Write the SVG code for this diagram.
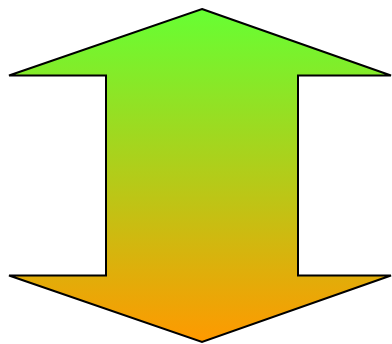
<svg xmlns="http://www.w3.org/2000/svg" width="392" height="344" viewBox="0 0 392 344">
  <defs>
    <linearGradient id="g" x1="0" y1="0" x2="0" y2="1">
      <stop offset="0" stop-color="#66ff33"/>
      <stop offset="1" stop-color="#ff9900"/>
    </linearGradient>
    <style>.arrow{fill:url(#g);stroke:#000;stroke-width:2;stroke-linejoin:miter}</style>
  </defs>
  <g id="double-arrow">
    <path class="arrow" d="M202,9 L391,75.5 L298,75.5 L298,275.5 L391,275.5 L202,342 L9,275.5 L106,275.5 L106,75.5 L9,75.5 Z"/>
  </g>
</svg>
